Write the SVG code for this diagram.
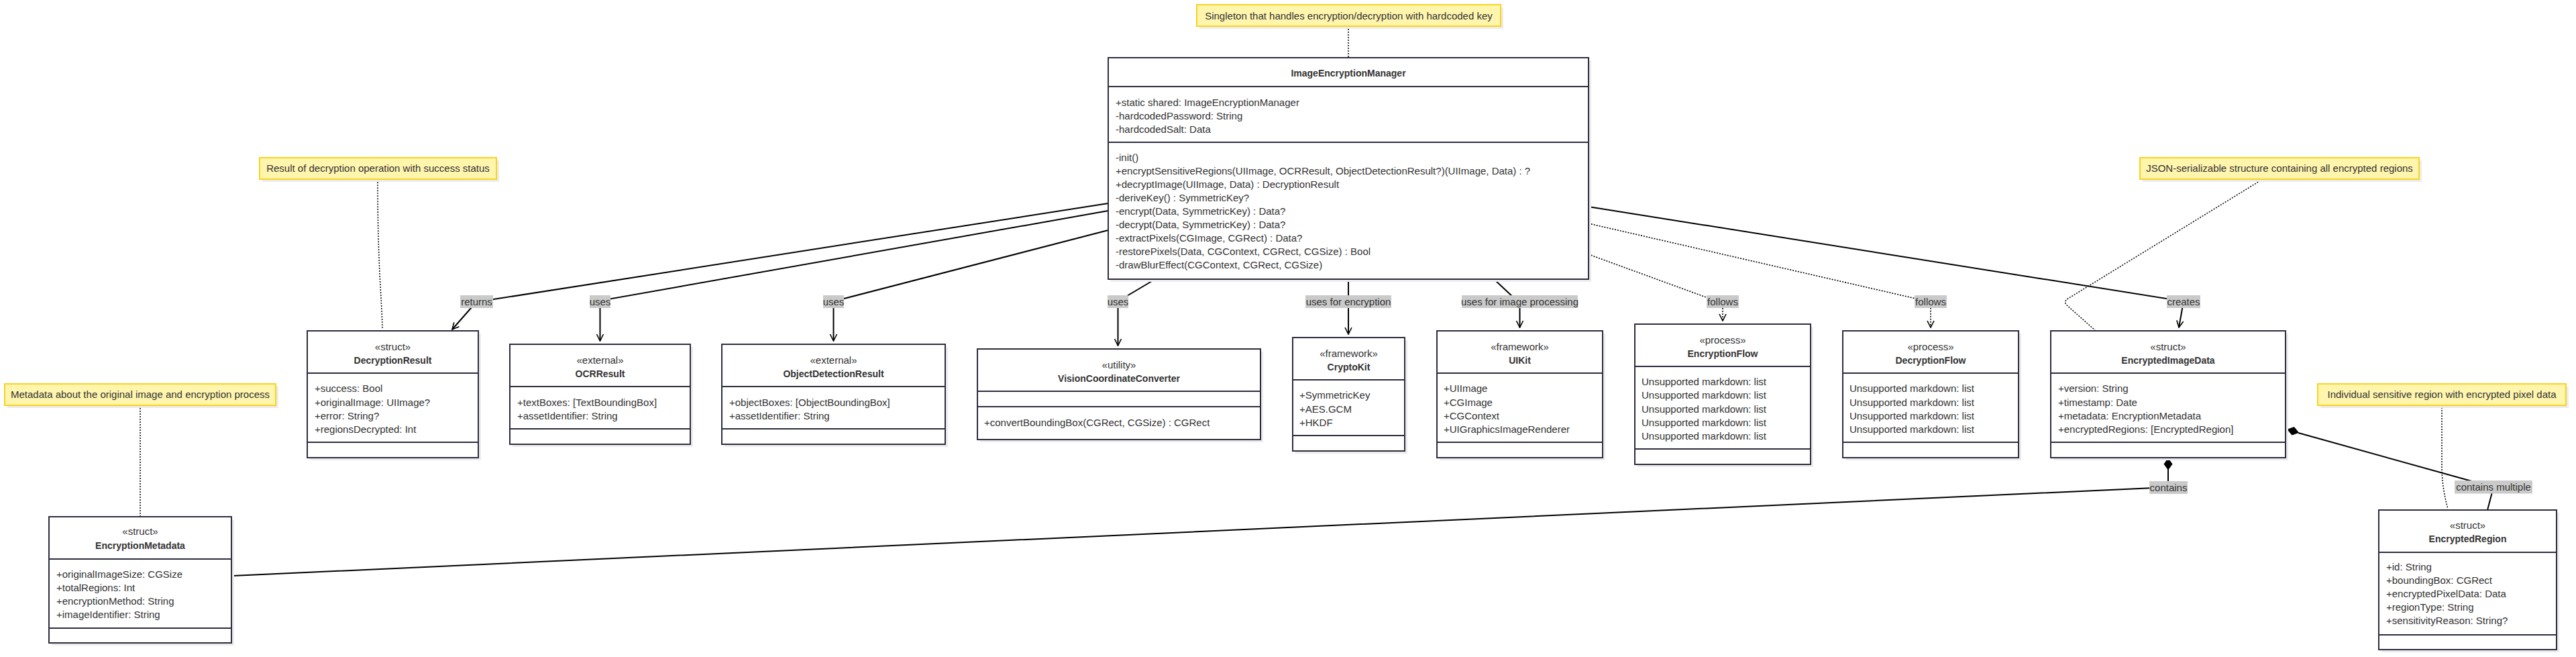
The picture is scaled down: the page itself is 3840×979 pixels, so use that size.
<svg xmlns="http://www.w3.org/2000/svg" width="3840" height="979" viewBox="0 0 3840 979">
<defs>
<style>
.nb{fill:#fff;stroke:#2d2d40;stroke-width:2}
.sh{fill:#ececec}
.dv{stroke:#2d2d40;stroke-width:2}
.t{font-family:"Liberation Sans",Arial,sans-serif;font-size:15px;fill:#333}
.b{font-weight:bold;font-size:14px}
.c{text-anchor:middle}
.note{fill:#fff5ad;stroke:#f8d31f;stroke-width:2}
.lbg{fill:#cacaca}
.e{fill:none;stroke:#000;stroke-width:2}
.d{stroke-width:1.6;stroke-dasharray:2,2}
.n{fill:none;stroke:#000;stroke-width:1.5;stroke-dasharray:2,2}
.dm{fill:#000;stroke:#000;stroke-width:1}
</style>
<marker id="arr" markerUnits="userSpaceOnUse" markerWidth="12" markerHeight="12" viewBox="0 0 12 12" refX="11" refY="6" orient="auto">
<path d="M1,1 L11,6 L1,11" fill="none" stroke="#000" stroke-width="1.6"/>
</marker>
</defs>
<rect width="3840" height="979" fill="#fff"/>

<g id="connectors">
<path class="n" d="M2010,39 L2010,86"/>
<path class="n" d="M563,267 C563,400 569,440 570,490"/>
<path class="n" d="M3373,267 L3081,446 Q3077,450 3080,454 L3123,492"/>
<path class="n" d="M3640,603 L3640,700 Q3641,730 3649,758"/>
<path class="n" d="M209,604 L209,770"/>

<path class="e" d="M1652,303 L710,450 L674,491" marker-end="url(#arr)"/>
<path class="e" d="M1652,314 L894.5,448 L894.5,508" marker-end="url(#arr)"/>
<path class="e" d="M1652,343 L1242.5,449 L1242.5,508" marker-end="url(#arr)"/>
<path class="e" d="M1722,416 L1666.5,449 L1666.5,515" marker-end="url(#arr)"/>
<path class="e" d="M2010,416 L2010,498" marker-end="url(#arr)"/>
<path class="e" d="M2227,416 L2265.5,452 L2265.5,488" marker-end="url(#arr)"/>
<path class="e d" d="M2368,379 L2568,452 L2568,478" marker-end="url(#arr)"/>
<path class="e d" d="M2368,333 L2878,450 L2878,488" marker-end="url(#arr)"/>
<path class="e" d="M2368,308 L3255,449 L3248,488" marker-end="url(#arr)"/>
<path class="e" d="M3232,699 L3232,726 L347,858"/>
<polygon class="dm" points="3232,683 3238,691.5 3232,700 3226,691.5"/>
<path class="e" d="M3426,645 L3717,726 L3708,760"/>
<polygon class="dm" points="3410,640 3419.8,636.5 3426.4,644.6 3416.6,648.1"/>

<rect class="lbg" x="686" y="440" width="49" height="19"/>
<text class="t c" x="710.5" y="454.5">returns</text>
<rect class="lbg" x="879" y="440" width="31" height="19"/>
<text class="t c" x="894.5" y="454.5">uses</text>
<rect class="lbg" x="1227" y="440" width="31" height="19"/>
<text class="t c" x="1242.5" y="454.5">uses</text>
<rect class="lbg" x="1651" y="440" width="31" height="19"/>
<text class="t c" x="1666.5" y="454.5">uses</text>
<rect class="lbg" x="1946" y="440" width="128" height="19"/>
<text class="t c" x="2010" y="454.5">uses for encryption</text>
<rect class="lbg" x="2179" y="440" width="173" height="19"/>
<text class="t c" x="2265.5" y="454.5">uses for image processing</text>
<rect class="lbg" x="2544" y="440" width="48" height="19"/>
<text class="t c" x="2568" y="454.5">follows</text>
<rect class="lbg" x="2854" y="440" width="48" height="19"/>
<text class="t c" x="2878" y="454.5">follows</text>
<rect class="lbg" x="3230" y="440" width="50" height="19"/>
<text class="t c" x="3255" y="454.5">creates</text>
<rect class="lbg" x="3204" y="717" width="57" height="19"/>
<text class="t c" x="3232.5" y="731.5">contains</text>
<rect class="lbg" x="3659" y="716" width="116" height="19.5"/>
<text class="t c" x="3717" y="731">contains multiple</text>
</g>

<g id="note-singleton">
<rect class="sh" x="1788" y="11" width="453" height="32"/>
<rect class="note" x="1784" y="7" width="453" height="32"/>
<text class="t c" x="2010.5" y="28.5">Singleton that handles encryption/decryption with hardcoded key</text>
</g>
<g id="note-decryptionresult">
<rect class="sh" x="391" y="239" width="353" height="32"/>
<rect class="note" x="387" y="235" width="353" height="32"/>
<text class="t c" x="563.5" y="256">Result of decryption operation with success status</text>
</g>
<g id="note-encryptedimagedata">
<rect class="sh" x="3194" y="239" width="416" height="32"/>
<rect class="note" x="3190" y="235" width="416" height="32"/>
<text class="t c" x="3398" y="256">JSON-serializable structure containing all encrypted regions</text>
</g>
<g id="note-encryptedregion">
<rect class="sh" x="3459" y="576" width="370" height="32"/>
<rect class="note" x="3455" y="572" width="370" height="32"/>
<text class="t c" x="3640" y="593">Individual sensitive region with encrypted pixel data</text>
</g>
<g id="note-encryptionmetadata">
<rect class="sh" x="11" y="576" width="404" height="32"/>
<rect class="note" x="7" y="572" width="404" height="32"/>
<text class="t c" x="209" y="593">Metadata about the original image and encryption process</text>
</g>

<g id="ImageEncryptionManager">
<rect class="sh" x="1656" y="90" width="716" height="330"/>
<rect class="nb" x="1652" y="86" width="716" height="330"/>
<line class="dv" x1="1652" y1="129" x2="2368" y2="129"/>
<line class="dv" x1="1652" y1="212" x2="2368" y2="212"/>
<text class="t b c" x="2010" y="114">ImageEncryptionManager</text>
<text class="t" x="1663" y="158">+static shared: ImageEncryptionManager</text>
<text class="t" x="1663" y="178">-hardcodedPassword: String</text>
<text class="t" x="1663" y="198">-hardcodedSalt: Data</text>
<text class="t" x="1663" y="240">-init()</text>
<text class="t" x="1663" y="260">+encryptSensitiveRegions(UIImage, OCRResult, ObjectDetectionResult?)(UIImage, Data) : ?</text>
<text class="t" x="1663" y="280">+decryptImage(UIImage, Data) : DecryptionResult</text>
<text class="t" x="1663" y="300">-deriveKey() : SymmetricKey?</text>
<text class="t" x="1663" y="320">-encrypt(Data, SymmetricKey) : Data?</text>
<text class="t" x="1663" y="340">-decrypt(Data, SymmetricKey) : Data?</text>
<text class="t" x="1663" y="360">-extractPixels(CGImage, CGRect) : Data?</text>
<text class="t" x="1663" y="380">-restorePixels(Data, CGContext, CGRect, CGSize) : Bool</text>
<text class="t" x="1663" y="400">-drawBlurEffect(CGContext, CGRect, CGSize)</text>
</g>

<g id="DecryptionResult">
<rect class="sh" x="462" y="497" width="255" height="189"/>
<rect class="nb" x="458" y="493" width="255" height="189"/>
<line class="dv" x1="458" y1="556" x2="713" y2="556"/>
<line class="dv" x1="458" y1="659" x2="713" y2="659"/>
<text class="t c" x="585.5" y="522">«struct»</text>
<text class="t b c" x="585.5" y="542">DecryptionResult</text>
<text class="t" x="469" y="584">+success: Bool</text>
<text class="t" x="469" y="605">+originalImage: UIImage?</text>
<text class="t" x="469" y="625">+error: String?</text>
<text class="t" x="469" y="645">+regionsDecrypted: Int</text>
</g>

<g id="OCRResult">
<rect class="sh" x="764" y="517" width="269" height="149"/>
<rect class="nb" x="760" y="513" width="269" height="149"/>
<line class="dv" x1="760" y1="576" x2="1029" y2="576"/>
<line class="dv" x1="760" y1="639" x2="1029" y2="639"/>
<text class="t c" x="894.5" y="542">«external»</text>
<text class="t b c" x="894.5" y="562">OCRResult</text>
<text class="t" x="771" y="605">+textBoxes: [TextBoundingBox]</text>
<text class="t" x="771" y="625">+assetIdentifier: String</text>
</g>

<g id="ObjectDetectionResult">
<rect class="sh" x="1080" y="517" width="333" height="149"/>
<rect class="nb" x="1076" y="513" width="333" height="149"/>
<line class="dv" x1="1076" y1="576" x2="1409" y2="576"/>
<line class="dv" x1="1076" y1="639" x2="1409" y2="639"/>
<text class="t c" x="1242.5" y="542">«external»</text>
<text class="t b c" x="1242.5" y="562">ObjectDetectionResult</text>
<text class="t" x="1087" y="605">+objectBoxes: [ObjectBoundingBox]</text>
<text class="t" x="1087" y="625">+assetIdentifier: String</text>
</g>

<g id="VisionCoordinateConverter">
<rect class="sh" x="1461" y="524" width="422" height="135"/>
<rect class="nb" x="1457" y="520" width="422" height="135"/>
<line class="dv" x1="1457" y1="583" x2="1879" y2="583"/>
<line class="dv" x1="1457" y1="606" x2="1879" y2="606"/>
<text class="t c" x="1668" y="549">«utility»</text>
<text class="t b c" x="1668" y="569">VisionCoordinateConverter</text>
<text class="t" x="1467" y="635">+convertBoundingBox(CGRect, CGSize) : CGRect</text>
</g>

<g id="CryptoKit">
<rect class="sh" x="1931" y="507" width="167" height="169"/>
<rect class="nb" x="1927" y="503" width="167" height="169"/>
<line class="dv" x1="1927" y1="566" x2="2094" y2="566"/>
<line class="dv" x1="1927" y1="649" x2="2094" y2="649"/>
<text class="t c" x="2010.5" y="532">«framework»</text>
<text class="t b c" x="2010.5" y="552">CryptoKit</text>
<text class="t" x="1937" y="594">+SymmetricKey</text>
<text class="t" x="1937" y="615">+AES.GCM</text>
<text class="t" x="1937" y="635">+HKDF</text>
</g>

<g id="UIKit">
<rect class="sh" x="2146" y="497" width="247" height="189"/>
<rect class="nb" x="2142" y="493" width="247" height="189"/>
<line class="dv" x1="2142" y1="556" x2="2389" y2="556"/>
<line class="dv" x1="2142" y1="659" x2="2389" y2="659"/>
<text class="t c" x="2265.5" y="522">«framework»</text>
<text class="t b c" x="2265.5" y="542">UIKit</text>
<text class="t" x="2152" y="584">+UIImage</text>
<text class="t" x="2152" y="605">+CGImage</text>
<text class="t" x="2152" y="625">+CGContext</text>
<text class="t" x="2152" y="645">+UIGraphicsImageRenderer</text>
</g>

<g id="EncryptionFlow">
<rect class="sh" x="2441" y="487" width="262" height="209"/>
<rect class="nb" x="2437" y="483" width="262" height="209"/>
<line class="dv" x1="2437" y1="546" x2="2699" y2="546"/>
<line class="dv" x1="2437" y1="669" x2="2699" y2="669"/>
<text class="t c" x="2568" y="512">«process»</text>
<text class="t b c" x="2568" y="532">EncryptionFlow</text>
<text class="t" x="2447" y="574">Unsupported markdown: list</text>
<text class="t" x="2447" y="594">Unsupported markdown: list</text>
<text class="t" x="2447" y="615">Unsupported markdown: list</text>
<text class="t" x="2447" y="635">Unsupported markdown: list</text>
<text class="t" x="2447" y="655">Unsupported markdown: list</text>
</g>

<g id="DecryptionFlow">
<rect class="sh" x="2751" y="497" width="262" height="189"/>
<rect class="nb" x="2747" y="493" width="262" height="189"/>
<line class="dv" x1="2747" y1="556" x2="3009" y2="556"/>
<line class="dv" x1="2747" y1="659" x2="3009" y2="659"/>
<text class="t c" x="2878" y="522">«process»</text>
<text class="t b c" x="2878" y="542">DecryptionFlow</text>
<text class="t" x="2757" y="584">Unsupported markdown: list</text>
<text class="t" x="2757" y="605">Unsupported markdown: list</text>
<text class="t" x="2757" y="625">Unsupported markdown: list</text>
<text class="t" x="2757" y="645">Unsupported markdown: list</text>
</g>

<g id="EncryptedImageData">
<rect class="sh" x="3061" y="497" width="350" height="189"/>
<rect class="nb" x="3057" y="493" width="350" height="189"/>
<line class="dv" x1="3057" y1="556" x2="3407" y2="556"/>
<line class="dv" x1="3057" y1="659" x2="3407" y2="659"/>
<text class="t c" x="3232" y="522">«struct»</text>
<text class="t b c" x="3232" y="542">EncryptedImageData</text>
<text class="t" x="3068" y="584">+version: String</text>
<text class="t" x="3068" y="605">+timestamp: Date</text>
<text class="t" x="3068" y="625">+metadata: EncryptionMetadata</text>
<text class="t" x="3068" y="645">+encryptedRegions: [EncryptedRegion]</text>
</g>

<g id="EncryptedRegion">
<rect class="sh" x="3550" y="764" width="265" height="208"/>
<rect class="nb" x="3546" y="760" width="265" height="208"/>
<line class="dv" x1="3546" y1="823" x2="3811" y2="823"/>
<line class="dv" x1="3546" y1="946" x2="3811" y2="946"/>
<text class="t c" x="3678.5" y="788">«struct»</text>
<text class="t b c" x="3678.5" y="808">EncryptedRegion</text>
<text class="t" x="3557" y="850">+id: String</text>
<text class="t" x="3557" y="870">+boundingBox: CGRect</text>
<text class="t" x="3557" y="890">+encryptedPixelData: Data</text>
<text class="t" x="3557" y="910">+regionType: String</text>
<text class="t" x="3557" y="930">+sensitivityReason: String?</text>
</g>

<g id="EncryptionMetadata">
<rect class="sh" x="77" y="774" width="272" height="188"/>
<rect class="nb" x="73" y="770" width="272" height="188"/>
<line class="dv" x1="73" y1="833" x2="345" y2="833"/>
<line class="dv" x1="73" y1="936" x2="345" y2="936"/>
<text class="t c" x="209" y="797">«struct»</text>
<text class="t b c" x="209" y="818">EncryptionMetadata</text>
<text class="t" x="84" y="861">+originalImageSize: CGSize</text>
<text class="t" x="84" y="881">+totalRegions: Int</text>
<text class="t" x="84" y="901">+encryptionMethod: String</text>
<text class="t" x="84" y="921">+imageIdentifier: String</text>
</g>
</svg>
